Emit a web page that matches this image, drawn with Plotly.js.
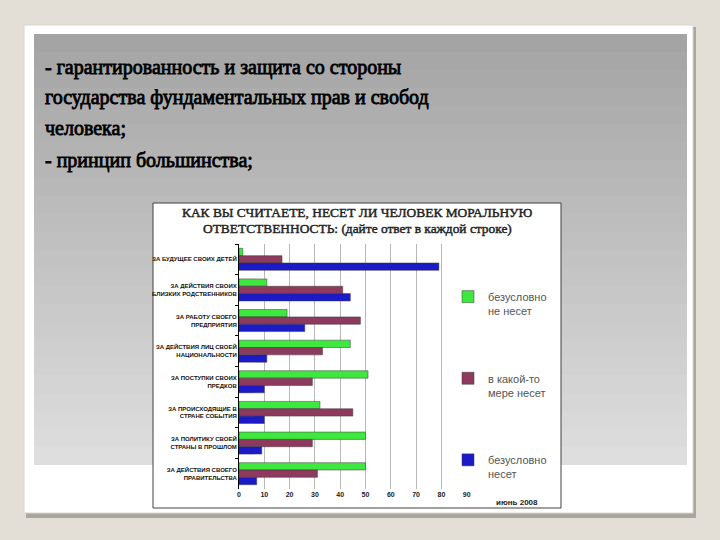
<!DOCTYPE html>
<html>
<head>
<meta charset="utf-8">
<script src="https://cdn.plot.ly/plotly-3.0.1.min.js"></script>
<style>
  html, body { margin: 0; padding: 0; background: #e4dfd6; }
  #chart { width: 720px; height: 540px; }
  /* no bold serif face installed, so thicken the regular one */
  text.annotation-text[style*="Liberation Serif"] { stroke: #000; stroke-width: 0.8px; }
  text.annotation-text[style*="Times New Roman"] { stroke: #222; stroke-width: 0.45px; }
</style>
</head>
<body>
<div id="chart"></div>
<script>
// data (percent)
var categories = [
    "ЗА БУДУЩЕЕ СВОИХ ДЕТЕЙ",
    "ЗА ДЕЙСТВИЯ СВОИХ<br>БЛИЗКИХ РОДСТВЕННИКОВ",
    "ЗА РАБОТУ СВОЕГО<br>ПРЕДПРИЯТИЯ",
    "ЗА ДЕЙСТВИЯ ЛИЦ СВОЕЙ<br>НАЦИОНАЛЬНОСТИ",
    "ЗА ПОСТУПКИ СВОИХ<br>ПРЕДКОВ",
    "ЗА ПРОИСХОДЯЩИЕ В<br>СТРАНЕ СОБЫТИЯ",
    "ЗА ПОЛИТИКУ СВОЕЙ<br>СТРАНЫ В ПРОШЛОМ",
    "ЗА ДЕЙСТВИЯ СВОЕГО<br>ПРАВИТЕЛЬСТВА"
];
var notResponsible = [1.5, 11, 19, 44, 51, 32, 50, 50];
var partlyResponsible = [17, 41, 48, 33, 29, 45, 29, 31];
var fullyResponsible = [79, 44, 26, 11, 10, 10, 9, 7];
var seriesNames = ["безусловно<br>не несет", "в какой-то<br>мере несет", "безусловно<br>несет"];
var xTicks = [0, 10, 20, 30, 40, 50, 60, 70, 80, 90];

var slideLines = [
    "- гарантированность и защита со стороны",
    "государства фундаментальных прав и свобод",
    "человека;",
    "- принцип большинства;"
];
var chartTitle = [
    "КАК ВЫ СЧИТАЕТЕ, НЕСЕТ ЛИ ЧЕЛОВЕК МОРАЛЬНУЮ",
    "ОТВЕТСТВЕННОСТЬ: (дайте ответ в каждой строке)"
];
var dateNote = "июнь 2008";

var sans = 'Liberation Sans';

// pixel -> paper helpers (margins are zero)
function px(x) { return x / 720; }
function py(y) { return 1 - y / 540; }

function makeTrace(vals, name, color, group) {
    return {
        type: 'bar',
        orientation: 'h',
        y: categories,
        x: vals,
        name: name,
        legendgroup: group,
        marker: { color: color, line: { color: '#3a3a3a', width: 0.5 } },
        hoverinfo: 'x'
    };
}

var data = [
    makeTrace(notResponsible, seriesNames[0], '#3fe83f', 'a'),
    makeTrace(partlyResponsible, seriesNames[1], '#8e3a5e', 'b'),
    makeTrace(fullyResponsible, seriesNames[2], '#1a1ac8', 'c')
];

var shapes = [];
// slide panel with shadow
shapes.push({ type: 'rect', xref: 'paper', yref: 'paper', x0: px(26), x1: px(696), y0: py(518), y1: py(27),
    fillcolor: '#a9a6a0', line: { width: 0 }, layer: 'below' });
shapes.push({ type: 'rect', xref: 'paper', yref: 'paper', x0: px(24), x1: px(693), y0: py(513), y1: py(25),
    fillcolor: '#ffffff', line: { color: '#d8d6d2', width: 1 }, layer: 'below' });
// gray gradient area, drawn as strips
var grayTop = 34, grayBottom = 465, strips = 24;
var c0 = [164, 164, 164], c1 = [222, 222, 222];
for (var i = 0; i < strips; i++) {
    var t = i / (strips - 1);
    var c = c0.map(function(v, k) { return Math.round(v + (c1[k] - v) * t); });
    var s0 = grayTop + (grayBottom - grayTop) * i / strips;
    var s1 = Math.min(grayTop + (grayBottom - grayTop) * (i + 1) / strips + 1, grayBottom);
    shapes.push({ type: 'rect', xref: 'paper', yref: 'paper', x0: px(34), x1: px(687), y0: py(s1), y1: py(s0),
        fillcolor: 'rgb(' + c.join(',') + ')', line: { width: 0 }, layer: 'below' });
}
// chart picture frame
shapes.push({ type: 'rect', xref: 'paper', yref: 'paper', x0: px(153), x1: px(561), y0: py(508), y1: py(203),
    fillcolor: '#ffffff', line: { color: '#404040', width: 1 }, layer: 'below' });

var annotations = [];
var slideY = [68, 98, 128, 160];
slideLines.forEach(function(txt, i) {
    annotations.push({ xref: 'paper', yref: 'paper', x: px(43), y: py(slideY[i]), xanchor: 'left', yanchor: 'middle',
        text: txt, showarrow: false,
        font: { family: 'Liberation Serif', size: 20, color: '#000' } });
});
var titleY = [212, 228];
chartTitle.forEach(function(txt, i) {
    annotations.push({ xref: 'paper', yref: 'paper', x: px(357), y: py(titleY[i]), xanchor: 'center', yanchor: 'middle',
        text: txt, showarrow: false,
        font: { family: 'Times New Roman', size: 13.4, color: '#222' } });
});
annotations.push({ xref: 'paper', yref: 'paper', x: px(517), y: py(502), xanchor: 'center', yanchor: 'middle',
    text: dateNote, showarrow: false,
    font: { family: sans, size: 8, color: '#222', weight: 'bold' } });

var layout = {
    width: 720,
    height: 540,
    margin: { l: 0, r: 0, t: 0, b: 0 },
    paper_bgcolor: '#e4dfd6',
    plot_bgcolor: 'rgba(0,0,0,0)',
    barmode: 'group',
    bargap: 0.28,
    bargroupgap: 0,
    showlegend: true,
    legend: {
        x: px(448), y: py(283), xanchor: 'left', yanchor: 'top',
        bgcolor: 'rgba(0,0,0,0)',
        valign: 'top',
        tracegroupgap: 50,
        font: { family: sans, size: 11, color: '#555' }
    },
    xaxis: {
        domain: [px(239), px(466.7)],
        range: [0, 90],
        tickvals: xTicks,
        showgrid: true,
        gridcolor: '#b8b8b8',
        gridwidth: 1,
        zeroline: false,
        showline: false,
        ticks: '',
        tickfont: { family: sans, size: 7, color: '#222', weight: 'bold' },
        fixedrange: true
    },
    yaxis: {
        domain: [py(489), py(244)],
        type: 'category',
        autorange: 'reversed',
        showline: true,
        linecolor: '#000',
        linewidth: 1,
        ticks: 'outside',
        tickson: 'boundaries',
        ticklen: 3,
        tickcolor: '#000',
        showgrid: false,
        tickfont: { family: sans, size: 6, color: '#111', weight: 'bold' },
        fixedrange: true
    },
    shapes: shapes,
    annotations: annotations
};

Plotly.newPlot('chart', data, layout, { displayModeBar: false, staticPlot: true });
</script>
</body>
</html>
